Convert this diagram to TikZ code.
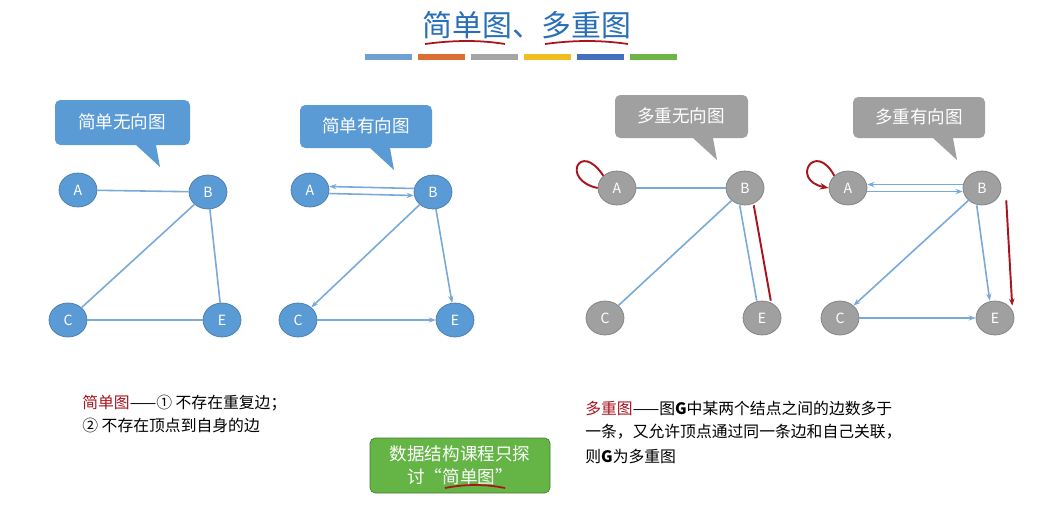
\documentclass[tikz,border=0pt]{standalone}
\usepackage{fontspec}
\setmainfont{Noto Sans CJK SC}
\usetikzlibrary{arrows.meta,shapes.geometric}
\definecolor{nb}{RGB}{91,155,213}
\definecolor{eb}{RGB}{120,170,215}
\definecolor{ng}{RGB}{160,160,160}
\definecolor{rd}{RGB}{170,20,30}
\definecolor{tb}{RGB}{40,110,185}
\definecolor{gr}{RGB}{100,180,70}
\definecolor{bc0}{RGB}{110,160,210}
\definecolor{bc1}{RGB}{220,110,50}
\definecolor{bc2}{RGB}{165,165,165}
\definecolor{bc3}{RGB}{240,190,30}
\definecolor{bc4}{RGB}{70,110,190}
\definecolor{bc5}{RGB}{110,180,70}
\begin{document}
\begin{tikzpicture}[x=0.02cm,y=-0.02cm,
 vb/.style={ellipse,minimum width=38*0.02cm,minimum height=34*0.02cm,inner sep=0pt,fill=nb,draw=nb!80!black,text=white,font=\fontsize{8}{9}\selectfont},
 vg/.style={vb,fill=ng,draw=ng!80!black},
 ed/.style={draw=eb,line width=0.9pt},
 ar/.style={ed,-{Stealth[length=4pt]}},
 re/.style={draw=rd,line width=1.1pt},
 txt/.style={font=\fontsize{9}{11}\selectfont,anchor=west,inner sep=0pt}]
\useasboundingbox (0,0) rectangle (1058,504);
\fill[white] (0,0) rectangle (1058,504);
% title
\node[text=tb,font=\fontsize{17}{19}\selectfont] (title) at (527,25) {简单图、多重图};
\draw[rd,line width=1pt] (425,44) .. controls (455,40) and (480,40) .. (505,44);
\draw[rd,line width=1pt] (545,44) .. controls (575,40) and (600,40) .. (628,44);
\foreach \i in {0,...,5}{
 \fill[bc\i] (365+\i*53,54) rectangle (412+\i*53,60);}
% callout style
\def\callout#1#2#3#4#5#6{\fill[#1,rounded corners=3pt] (#2,#3) rectangle (#4,#5);
 \fill[#1] ({#6-12},#5) -- ({#6+8},#5) -- ({#6+12},{#5+22}) -- cycle;}
% Graph 1
\callout{nb}{55}{100}{190}{145}{148}
\node[text=white,font=\fontsize{10}{12}\selectfont] (c1) at (122,122) {简单无向图};
\node[vb] (A1) at (78,190) {A}; \node[vb] (B1) at (208,192) {B};
\node[vb] (C1) at (68,320) {C}; \node[vb] (E1) at (222,320) {E};
\draw[ed] (A1)--(B1); \draw[ed] (B1)--(C1); \draw[ed] (B1)--(E1); \draw[ed] (C1)--(E1);
% Graph 2
\callout{nb}{300}{105}{432}{148}{382}
\node[text=white,font=\fontsize{10}{12}\selectfont] (c2) at (366,126) {简单有向图};
\node[vb] (A2) at (310,190) {A}; \node[vb] (B2) at (433,192) {B};
\node[vb] (C2) at (298,320) {C}; \node[vb] (E2) at (455,320) {E};
\draw[ar] ([yshift=-2pt]A2.east)--([yshift=-2pt]B2.west);
\draw[ar] ([yshift=2pt]B2.west)--([yshift=2pt]A2.east);
\draw[ar] (B2)--(C2); \draw[ar] (B2)--(E2); \draw[ar] (C2)--(E2);
% Graph 3
\callout{ng}{615}{95}{748}{138}{705}
\node[text=white,font=\fontsize{10}{12}\selectfont] (c3) at (681,116) {多重无向图};
\node[vg] (A3) at (617,188) {A}; \node[vg] (B3) at (745,188) {B};
\node[vg] (C3) at (605,318) {C}; \node[vg] (E3) at (762,318) {E};
\draw[ed] (A3)--(B3); \draw[ed] (B3)--(C3);
\draw[ed] ([xshift=-3pt]B3.south)--([xshift=-3pt]E3.north);
\draw[re] ([xshift=5pt]B3.south)--([xshift=5pt]E3.north);
\draw[re] (A3.north west) .. controls (580,140) and (560,180) .. (A3.west);
% Graph 4
\callout{ng}{853}{97}{985}{138}{945}
\node[text=white,font=\fontsize{10}{12}\selectfont] (c4) at (919,117) {多重有向图};
\node[vg] (A4) at (848,188) {A}; \node[vg] (B4) at (982,188) {B};
\node[vg] (C4) at (840,318) {C}; \node[vg] (E4) at (995,318) {E};
\draw[ar] ([yshift=-2pt]A4.east)--([yshift=-2pt]B4.west);
\draw[ar] ([yshift=2pt]B4.west)--([yshift=2pt]A4.east);
\draw[ar] (B4)--(C4); \draw[ar] (C4)--(E4);
\draw[ar] ([xshift=-3pt]B4.south)--([xshift=-3pt]E4.north);
\draw[re,-{Stealth[length=4pt]}] ([xshift=6pt]B4.south east)--([xshift=2pt]E4.north east);
\draw[re,-{Stealth[length=5pt]}] (A4.north west) .. controls (815,140) and (790,180) .. (A4.west);
% texts
\node[txt] (t1) at (82,403) {\textcolor{rd}{简单图}——① 不存在重复边；};
\node[txt] (t2) at (82,425) {② 不存在顶点到自身的边};
\fill[gr,rounded corners=3pt,draw=gr!70!black] (370,438) rectangle (550,493);
\node[text=white,font=\fontsize{10}{13}\selectfont,align=center] (gb) at (460,465) {数据结构课程只探\\讨“简单图”};
\draw[rd,line width=1pt] (445,488) .. controls (465,484) and (485,484) .. (505,488);
\node[txt] (r1) at (585,408) {\textcolor{rd}{多重图}——图\textbf{\textit{G}}中某两个结点之间的边数多于};
\node[txt] (r2) at (585,432) {一条，又允许顶点通过同一条边和自己关联，};
\node[txt] (r3) at (585,456) {则\textbf{\textit{G}}为多重图};
\end{tikzpicture}
\end{document}
